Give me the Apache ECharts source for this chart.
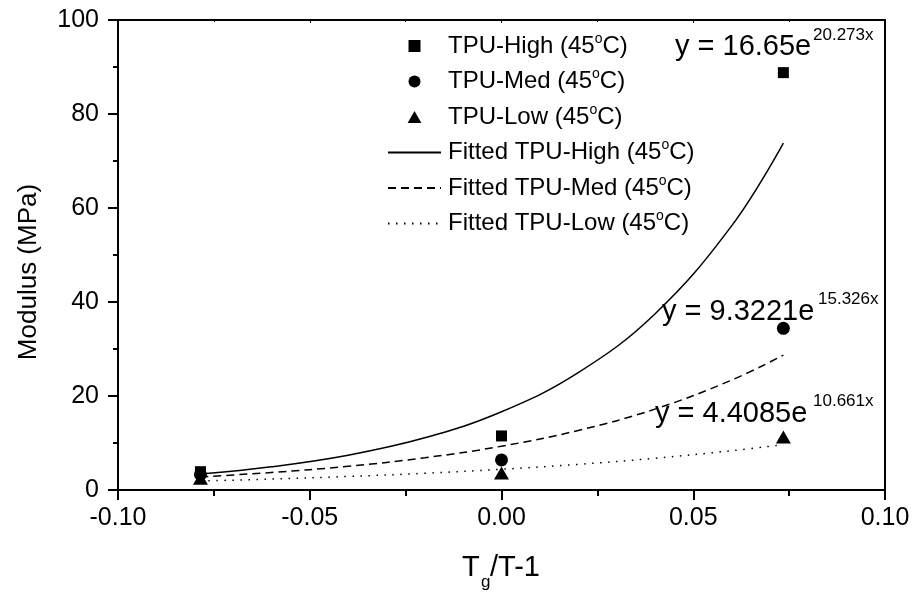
<!DOCTYPE html>
<html>
<head>
<meta charset="utf-8">
<script src="https://cdn.jsdelivr.net/npm/echarts@6/dist/echarts.min.js"></script>
<style>
html,body{margin:0;padding:0;background:#fff;}
#chart{width:915px;height:594px;}
</style>
</head>
<body>
<div id="chart"></div>
<script>
// ---- data ----
const xPoints = [-0.0785, 0.0, 0.0735];
const highPoints = [3.9, 11.5, 88.8];
const medPoints = [3.3, 6.4, 34.4];
const lowPoints = [2.5, 3.6, 11.3];

const fitX = [-0.0785, -0.06, -0.04, -0.02, 0.0, 0.02, 0.04, 0.06, 0.0735];
const fitHigh = [3.38, 4.93, 7.40, 11.10, 16.65, 24.97, 37.46, 56.19, 73.8];
const fitMed = [2.79, 3.72, 5.05, 6.86, 9.32, 12.67, 17.21, 23.38, 28.7];
const fitLow = [1.91, 2.33, 2.88, 3.56, 4.41, 5.46, 6.75, 8.36, 9.65];

const seriesNames = ['TPU-High (45oC)', 'TPU-Med (45oC)', 'TPU-Low (45oC)',
  'Fitted TPU-High (45oC)', 'Fitted TPU-Med (45oC)', 'Fitted TPU-Low (45oC)'];
const equations = [
  {main: 'y = 16.65e', sup: '20.273x'},
  {main: 'y = 9.3221e', sup: '15.326x'},
  {main: 'y = 4.4085e', sup: '10.661x'}
];
const xTicks = [-0.10, -0.05, 0.00, 0.05, 0.10];
const yTicks = [0, 20, 40, 60, 80, 100];

const FONT = '"Liberation Sans", Arial, sans-serif';
const pair = (xs, ys) => xs.map((x, i) => [x, ys[i]]);

const chart = echarts.init(document.getElementById('chart'));

function eqGraphics() {
  const pos = [
    {mx: 675, my: 48, sx: 813, sy: 36.7},
    {mx: 662, my: 313, sx: 818, sy: 300.7},
    {mx: 655, my: 415, sx: 813, sy: 402.7}
  ];
  const g = [];
  equations.forEach((e, i) => {
    g.push({type: 'text', left: pos[i].mx, top: pos[i].my - 16, z: 100,
      style: {text: e.main, font: '29px ' + FONT, fill: '#000'}});
    g.push({type: 'text', left: pos[i].sx, top: pos[i].sy - 10, z: 100,
      style: {text: e.sup, font: '17px ' + FONT, fill: '#000'}});
  });
  return g;
}

const hidden = {color: 'rgba(0,0,0,0)', borderWidth: 0};

const option = {
  backgroundColor: '#fff',
  animation: false,
  grid: {left: 118, right: 30, top: 20, bottom: 104, containLabel: false},
  legend: {
    orient: 'vertical', left: 382, top: 27,
    itemWidth: 53, itemHeight: 12, itemGap: 7.5,
    symbolKeepAspect: true,
    data: [
      {name: seriesNames[0], icon: 'path://M0,0L10,0L10,10L0,10Z'},
      {name: seriesNames[1], icon: 'circle'},
      {name: seriesNames[2], icon: 'path://M5,0L10,8.7L0,8.7Z'},
      {name: seriesNames[3], itemStyle: hidden},
      {name: seriesNames[4], itemStyle: hidden},
      {name: seriesNames[5], itemStyle: hidden}
    ],
    formatter: (n) => {
      const p = n.split('(45oC)');
      return '{n|' + p[0] + '(45}{s|o}{n|C)}';
    },
    textStyle: {
      fontFamily: FONT, fontSize: 24, color: '#000', padding: [0, 0, 0, 2],
      rich: {
        n: {fontFamily: FONT, fontSize: 24, lineHeight: 25, color: '#000'},
        s: {fontFamily: FONT, fontSize: 14, lineHeight: 14, padding: [0, 0, 14, 0], color: '#000'}
      }
    }
  },
  xAxis: [{
    type: 'value', min: -0.1, max: 0.1, interval: 0.05, position: 'bottom',
    axisLine: {show: true, onZero: false, lineStyle: {color: '#000', width: 2}},
    axisTick: {show: true, inside: false, length: 10, lineStyle: {color: '#000', width: 2}},
    minorTick: {show: true, splitNumber: 2, length: 6, lineStyle: {color: '#000', width: 2}},
    splitLine: {show: false},
    axisLabel: {fontFamily: FONT, fontSize: 25, color: '#000', margin: 16,
      formatter: (v) => {
        const t = xTicks.find(t => Math.abs(t - v) < 1e-9);
        return (t !== undefined ? t : v).toFixed(2);
      }}
  }, {
    type: 'value', min: -0.1, max: 0.1, interval: 0.05, position: 'top',
    axisLine: {show: true, onZero: false, lineStyle: {color: '#000', width: 2}},
    axisTick: {show: true, inside: true, length: 3, lineStyle: {color: '#000', width: 1}},
    minorTick: {show: true, splitNumber: 2, length: 2, lineStyle: {color: '#000', width: 1}},
    splitLine: {show: false}, axisLabel: {show: false}
  }],
  yAxis: [{
    type: 'value', min: 0, max: 100, interval: 20, position: 'left',
    axisLine: {show: true, onZero: false, lineStyle: {color: '#000', width: 2}},
    axisTick: {show: true, inside: false, length: 10, lineStyle: {color: '#000', width: 2}},
    minorTick: {show: true, splitNumber: 2, length: 5, lineStyle: {color: '#000', width: 2}},
    splitLine: {show: false},
    axisLabel: {fontFamily: FONT, fontSize: 25, color: '#000', margin: 19,
      formatter: (v) => String(yTicks.find(t => Math.abs(t - v) < 1e-9) ?? v)}
  }, {
    type: 'value', min: 0, max: 100, interval: 20, position: 'right',
    axisLine: {show: true, onZero: false, lineStyle: {color: '#000', width: 2}},
    axisTick: {show: false}, splitLine: {show: false}, axisLabel: {show: false}
  }],
  graphic: [
    {type: 'text', x: 29, y: 272, rotation: Math.PI / 2,
      style: {text: 'Modulus (MPa)', font: '26px ' + FONT, fill: '#000', align: 'center', verticalAlign: 'middle'}},
    {type: 'text', left: 462, top: 553, style: {text: 'T', font: '29px ' + FONT, fill: '#000'}},
    {type: 'text', left: 481, top: 574, style: {text: 'g', font: '17px ' + FONT, fill: '#000'}},
    {type: 'text', left: 490, top: 553, style: {text: '/T-1', font: '29px ' + FONT, fill: '#000'}}
  ].concat(eqGraphics()),
  series: [
    {name: seriesNames[0], type: 'scatter', symbol: 'rect', symbolSize: 11,
      itemStyle: {color: '#000', opacity: 1}, data: pair(xPoints, highPoints), z: 5},
    {name: seriesNames[1], type: 'scatter', symbol: 'circle', symbolSize: 13,
      itemStyle: {color: '#000', opacity: 1}, data: pair(xPoints, medPoints), z: 5},
    {name: seriesNames[2], type: 'scatter', symbol: 'triangle', symbolSize: [15, 13],
      itemStyle: {color: '#000', opacity: 1}, data: pair(xPoints, lowPoints), z: 5},
    {name: seriesNames[3], type: 'line', smooth: 0.4, symbol: 'none', showSymbol: false,
      lineStyle: {color: '#000', width: 1.5, type: 'solid'}, itemStyle: {color: '#000'},
      data: pair(fitX, fitHigh)},
    {name: seriesNames[4], type: 'line', smooth: 0.4, symbol: 'none', showSymbol: false,
      lineStyle: {color: '#000', width: 1.5, type: [8, 5]}, itemStyle: {color: '#000'},
      data: pair(fitX, fitMed)},
    {name: seriesNames[5], type: 'line', smooth: 0.4, symbol: 'none', showSymbol: false,
      lineStyle: {color: '#000', width: 1.5, type: [1.5, 6.5]}, itemStyle: {color: '#000'},
      data: pair(fitX, fitLow)}
  ]
};
chart.setOption(option);
</script>
</body>
</html>
